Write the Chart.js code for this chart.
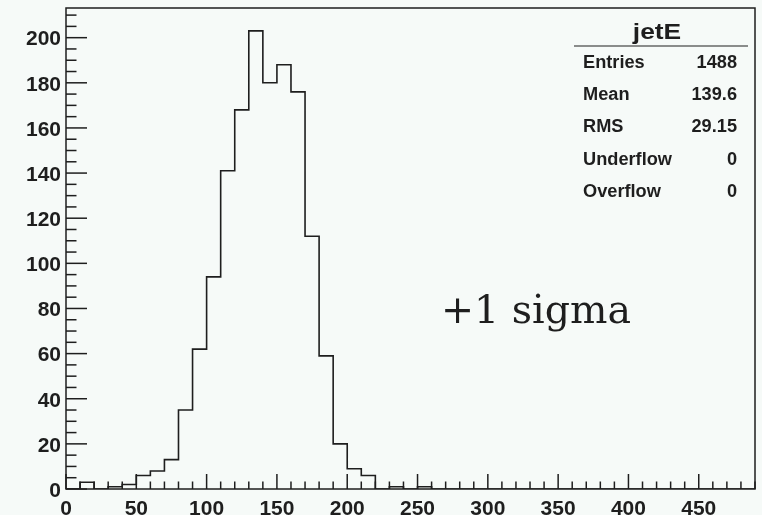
<!DOCTYPE html>
<html>
<head>
<meta charset="utf-8">
<script src="https://cdn.jsdelivr.net/npm/chart.js@4/dist/chart.umd.min.js"></script>
<style>
  html, body { margin: 0; padding: 0; background: #f6faf8; }
  #wrap { width: 762px; height: 515px; position: relative; }
</style>
</head>
<body>
<div id="wrap"><canvas id="chart"></canvas></div>
<script>
// ================= DATA =================
// lower bin edges (10 GeV bins), last entry is the upper edge of the range
const binEdges = [
  0, 10, 20, 30, 40, 50, 60, 70, 80, 90,
  100, 110, 120, 130, 140, 150, 160, 170, 180, 190,
  200, 210, 220, 230, 240, 250, 260, 270, 280, 290,
  300, 310, 320, 330, 340, 350, 360, 370, 380, 390,
  400, 410, 420, 430, 440, 450, 460, 470, 480, 490,
];
// entries per bin
const counts = [
  0, 3, 0, 1, 2, 6, 8, 13, 35, 62,
  94, 141, 168, 203, 180, 188, 176, 112, 59, 20,
  9, 6, 0, 1, 0, 1, 0, 0, 0, 0,
  0, 0, 0, 0, 0, 0, 0, 0, 0, 0,
  0, 0, 0, 0, 0, 0, 0, 0, 0,
];
const xMin = 0;
const xMax = 490;
const yMax = 213.15;

const histTitle = "jetE";
const statLabels = ["Entries", "Mean", "RMS", "Underflow", "Overflow"];
const statValues = ["1488", "139.6", "29.15", "0", "0"];
const noteText = "+1 sigma";

// ================= HELPERS =================
const BG = "#f6faf8";
const INK = "#1e1e1e";
const SANS = "'Liberation Sans', Arial, sans-serif";

function line(ctx, x1, y1, x2, y2) {
  ctx.beginPath();
  ctx.moveTo(x1, y1);
  ctx.lineTo(x2, y2);
  ctx.stroke();
}

// text stretched a bit wider, like the ROOT bitmap fonts
function wideText(ctx, text, x, y, stretch) {
  ctx.save();
  ctx.translate(x, y);
  ctx.scale(stretch, 1);
  ctx.fillText(text, 0, 0);
  ctx.restore();
}

// ROOT-like frame, inner ticks, stats box and label
const rootStyle = {
  id: "rootStyle",
  beforeDraw(chart) {
    const ctx = chart.ctx;
    ctx.save();
    ctx.fillStyle = BG;
    ctx.fillRect(0, 0, chart.width, chart.height);
    ctx.restore();
  },
  afterDraw(chart) {
    const { ctx, chartArea: a, scales } = chart;
    const x = scales.x;
    const y = scales.y;
    ctx.save();
    ctx.strokeStyle = INK;
    ctx.lineWidth = 1.5;

    // frame
    ctx.strokeRect(a.left, a.top, a.right - a.left, a.bottom - a.top);

    // x ticks (inside)
    for (let v = xMin; v <= xMax; v += 10) {
      const px = x.getPixelForValue(v);
      const len = v % 50 === 0 ? 15 : 7.5;
      line(ctx, px, a.bottom, px, a.bottom - len);
    }
    // y ticks (inside)
    for (let v = 0; v <= yMax; v += 5) {
      const py = y.getPixelForValue(v);
      const len = v % 20 === 0 ? 21 : 10.5;
      line(ctx, a.left, py, a.left + len, py);
    }

    // stats box
    ctx.fillStyle = INK;
    ctx.font = "bold 22px " + SANS;
    ctx.textAlign = "center";
    ctx.textBaseline = "middle";
    wideText(ctx, histTitle, a.right - 98, a.top + 25, 1.2);
    ctx.lineWidth = 1.2;
    line(ctx, a.right - 181, a.top + 38, a.right - 7, a.top + 38);

    ctx.font = "bold 17.5px " + SANS;
    statLabels.forEach((lab, i) => {
      const ty = a.top + 55 + i * 32.3;
      ctx.textAlign = "left";
      wideText(ctx, lab, a.right - 172, ty, 1.04);
      ctx.textAlign = "right";
      wideText(ctx, statValues[i], a.right - 18, ty, 1.04);
    });

    // note
    ctx.font = "39.5px 'DejaVu Serif', serif";
    ctx.textAlign = "left";
    ctx.textBaseline = "alphabetic";
    ctx.fillText(noteText, a.left + 375, a.top + 315);
    ctx.restore();
  },
};

// ================= CHART =================
const points = binEdges.map((e, i) => ({
  x: e,
  y: i < counts.length ? counts[i] : counts[counts.length - 1],
}));

new Chart(document.getElementById("chart"), {
  type: "line",
  data: {
    datasets: [
      {
        data: points,
        stepped: "before",
        borderColor: INK,
        borderWidth: 1.6,
        pointRadius: 0,
        fill: false,
      },
    ],
  },
  options: {
    responsive: true,
    maintainAspectRatio: false,
    animation: false,
    layout: { padding: { top: 8, right: 7, left: 0, bottom: 0 } },
    plugins: { legend: { display: false }, tooltip: { enabled: false } },
    scales: {
      x: {
        type: "linear",
        min: xMin,
        max: xMax,
        grid: { display: false, drawTicks: false },
        border: { display: false },
        ticks: {
          stepSize: 50,
          includeBounds: false,
          autoSkip: false,
          maxRotation: 0,
          padding: 8,
          color: INK,
          font: { family: SANS, size: 21, weight: "bold" },
        },
        afterFit(scale) {
          scale.height = 26;
          scale.paddingLeft = 0;
          scale.paddingRight = 0;
        },
      },
      y: {
        min: 0,
        max: yMax,
        grid: { display: false, drawTicks: false },
        border: { display: false },
        ticks: {
          stepSize: 20,
          includeBounds: false,
          autoSkip: false,
          padding: 5,
          labelOffset: 2,
          color: INK,
          font: { family: SANS, size: 21, weight: "bold" },
        },
        afterFit(scale) {
          scale.width = 66;
          scale.paddingTop = 0;
          scale.paddingBottom = 0;
        },
      },
    },
  },
  plugins: [rootStyle],
});
</script>
</body>
</html>
